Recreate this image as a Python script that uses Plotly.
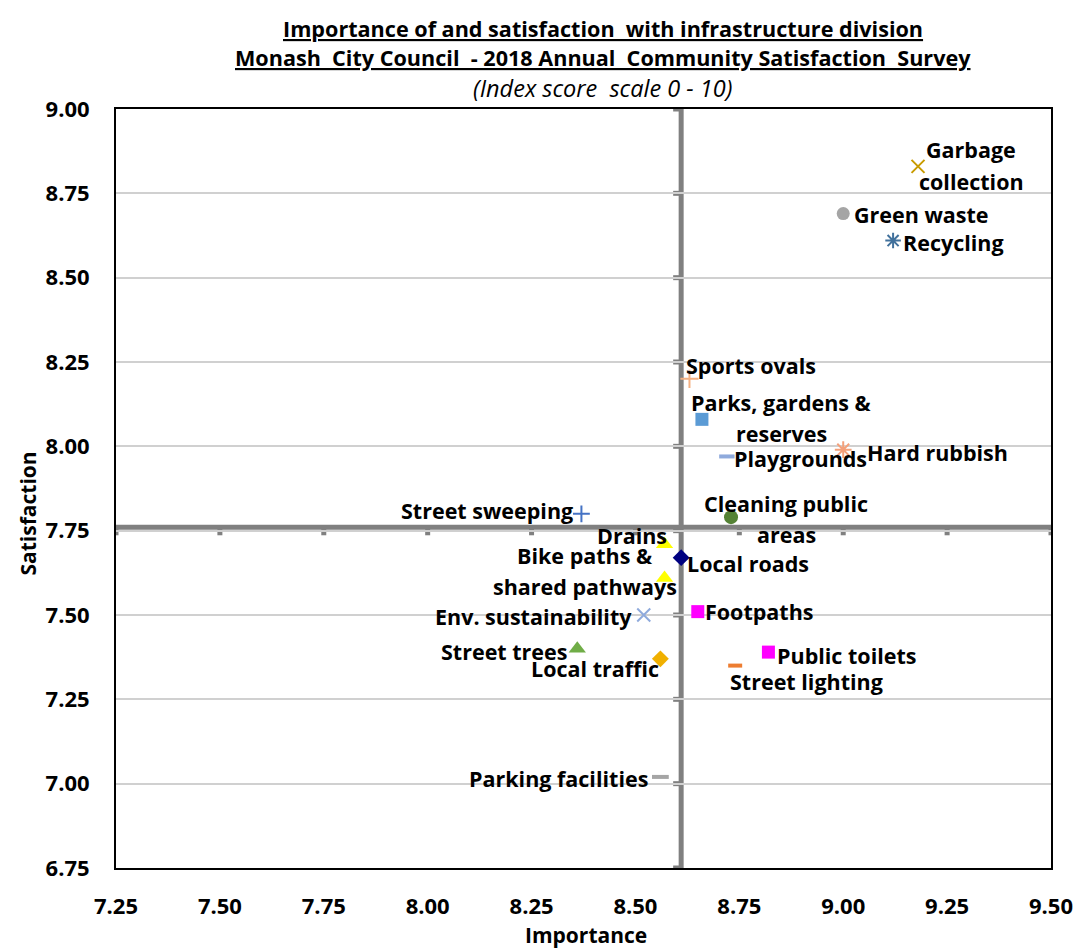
import plotly.graph_objects as go

# ---------------- data ----------------
names = ["Garbage collection", "Green waste", "Recycling", "Sports ovals",
         "Parks, gardens & reserves", "Playgrounds", "Hard rubbish",
         "Cleaning public areas", "Street sweeping", "Drains", "Local roads",
         "Bike paths & shared pathways", "Env. sustainability", "Footpaths",
         "Street trees", "Local traffic", "Public toilets", "Street lighting",
         "Parking facilities"]
importance = [9.18, 9.00, 9.12, 8.63, 8.66, 8.72, 9.00, 8.73, 8.37, 8.57, 8.61,
              8.57, 8.52, 8.65, 8.36, 8.56, 8.82, 8.74, 8.56]
satisfaction = [8.83, 8.69, 8.61, 8.20, 8.08, 7.97, 7.99, 7.79, 7.80, 7.71, 7.67,
                7.61, 7.50, 7.51, 7.40, 7.37, 7.39, 7.35, 7.02]
label_lines = [["Garbage", "collection"], ["Green waste"], ["Recycling"], ["Sports ovals"],
               ["Parks, gardens &", "reserves"], ["Playgrounds"], ["Hard rubbish"],
               ["Cleaning public", "areas"], ["Street sweeping"], ["Drains"], ["Local roads"],
               ["Bike paths &", "shared pathways"], ["Env. sustainability"], ["Footpaths"],
               ["Street trees"], ["Local traffic"], ["Public toilets"], ["Street lighting"],
               ["Parking facilities"]]
avg_importance = 8.61
avg_satisfaction = 7.76

x_ticks = [7.25, 7.50, 7.75, 8.00, 8.25, 8.50, 8.75, 9.00, 9.25, 9.50]
y_ticks = [6.75, 7.00, 7.25, 7.50, 7.75, 8.00, 8.25, 8.50, 8.75, 9.00]

# ---------------- styles ----------------
FONT = "Open Sans"
styles = [
    dict(symbol="x-thin-open", color="#C89B00", size=13, lw=2),
    dict(symbol="circle", color="#A5A5A5", size=13, lw=0),
    dict(symbol="asterisk-open", color="#41719C", size=13, lw=2),
    dict(symbol="cross-thin-open", color="#F4B183", size=13, lw=2),
    dict(symbol="square", color="#5B9BD5", size=13, lw=0),
    dict(symbol="line-ew-open", color="#8FAADC", size=11, lw=4),
    dict(symbol="asterisk-open", color="#F4A07A", size=14, lw=2),
    dict(symbol="circle", color="#548235", size=14, lw=0),
    dict(symbol="cross-thin-open", color="#4472C4", size=12, lw=2),
    dict(symbol="triangle-up", color="#FFFF00", size=15, lw=0),
    dict(symbol="diamond", color="#000080", size=13, lw=0),
    dict(symbol="triangle-up", color="#FFFF00", size=15, lw=0),
    dict(symbol="x-thin-open", color="#8FAADC", size=13, lw=2),
    dict(symbol="square", color="#FF00FF", size=13, lw=0),
    dict(symbol="triangle-up", color="#70AD47", size=15, lw=0),
    dict(symbol="diamond", color="#F0B000", size=13, lw=0),
    dict(symbol="square", color="#FF00FF", size=13, lw=0),
    dict(symbol="line-ew-open", color="#ED7D31", size=10, lw=4),
    dict(symbol="line-ew-open", color="#A5A5A5", size=12, lw=4),
]
# label placement: (anchor, dx, [dy per line]) in pixels relative to marker
placement = [
    ("center", 53, [-17, 15]),
    ("left", 9, [1]),
    ("left", 8, [2]),
    ("left", -5, [-13]),
    ("center", 80, [-17, 14]),
    ("left", 5, [2]),
    ("left", 22, [3]),
    ("center", 55, [-14, 17]),
    ("right", -6, [-3]),
    ("right", 4, [-9]),
    ("left", 4, [6]),
    ("center", -80, [-22, 9]),
    ("right", -10, [1]),
    ("left", 5, [0]),
    ("right", -8, [3]),
    ("right", 1, [10]),
    ("left", 7, [3]),
    ("left", -7, [16]),
    ("right", -10, [2]),
]

fig = go.Figure()
for i, name in enumerate(names):
    s = styles[i]
    if s["lw"] > 0:
        marker = dict(symbol=s["symbol"], size=s["size"], color=s["color"],
                      line=dict(color=s["color"], width=s["lw"]))
    else:
        marker = dict(symbol=s["symbol"], size=s["size"], color=s["color"],
                      line=dict(width=0))
    fig.add_trace(go.Scatter(x=[importance[i]], y=[satisfaction[i]], mode="markers",
                             marker=marker, name=name, showlegend=False,
                             hoverinfo="text", text=[name]))

annotations = []
LABEL_SIZE = 21.5
for i in range(len(names)):
    anchor, dx, dys = placement[i]
    for line, dy in zip(label_lines[i], dys):
        annotations.append(dict(
            x=importance[i], y=satisfaction[i], xref="x", yref="y",
            text="<b>%s</b>" % line, showarrow=False,
            xanchor=anchor, yanchor="middle", xshift=dx, yshift=-dy,
            font=dict(family=FONT, size=LABEL_SIZE, color="#000000")))

# titles
title_lines = [
    ("<b><u>Importance of and satisfaction  with infrastructure division</u></b>", 81, 21.6),
    ("<b><u>Monash  City Council  - 2018 Annual  Community Satisfaction  Survey</u></b>", 52, 21.6),
    ("<i>(Index score  scale 0 - 10)</i>", 21, 23.5),
]
for txt, ys, fs in title_lines:
    annotations.append(dict(x=0.5, y=1, xref="paper", yref="paper", text=txt,
                            showarrow=False, xanchor="center", yanchor="middle",
                            xshift=19, yshift=ys,
                            font=dict(family=FONT, size=fs, color="#000000")))
annotations.append(dict(x=0.5, y=0, xref="paper", yref="paper", text="<b>Importance</b>",
                        showarrow=False, xanchor="center", yanchor="middle",
                        xshift=2, yshift=-67,
                        font=dict(family=FONT, size=21, color="#000000")))
annotations.append(dict(x=0, y=0.5, xref="paper", yref="paper", text="<b>Satisfaction</b>",
                        showarrow=False, xanchor="center", yanchor="middle",
                        xshift=-89, yshift=-25, textangle=-90,
                        font=dict(family=FONT, size=21, color="#000000")))

# centre lines with tick marks
GREY = "#808080"
shapes = [
    dict(type="line", xref="x", yref="y", x0=x_ticks[0], x1=x_ticks[-1],
         y0=avg_satisfaction, y1=avg_satisfaction, line=dict(color=GREY, width=5), layer="below"),
    dict(type="line", xref="x", yref="y", x0=avg_importance, x1=avg_importance,
         y0=y_ticks[0], y1=y_ticks[-1], line=dict(color=GREY, width=5), layer="below"),
]
for xv in x_ticks:
    shapes.append(dict(type="rect", xref="x", yref="y", xsizemode="pixel", ysizemode="pixel",
                       xanchor=xv, yanchor=avg_satisfaction, x0=-2.5, x1=2.5, y0=-8, y1=0,
                       fillcolor=GREY, line=dict(width=0), layer="below"))
for yv in y_ticks:
    shapes.append(dict(type="rect", xref="x", yref="y", xsizemode="pixel", ysizemode="pixel",
                       xanchor=avg_importance, yanchor=yv, x0=-8, x1=0, y0=-2.5, y1=2.5,
                       fillcolor=GREY, line=dict(width=0), layer="below"))

fig.update_layout(
    width=1077, height=949,
    margin=dict(l=116, r=26, t=109, b=81, autoexpand=False),
    paper_bgcolor="white", plot_bgcolor="white",
    font=dict(family=FONT, color="#000000"),
    annotations=annotations, shapes=shapes,
    xaxis=dict(range=[x_ticks[0], x_ticks[-1]], tickvals=x_ticks,
               ticktext=["<b>%.2f</b>" % v for v in x_ticks],
               showgrid=False, zeroline=False, showline=True, linecolor="#000000",
               linewidth=2, mirror=True, ticks="", ticklabelstandoff=18,
               ticklabeloverflow="allow", automargin=False,
               tickfont=dict(family=FONT, size=22, color="#000000"), fixedrange=True),
    yaxis=dict(range=[y_ticks[0], y_ticks[-1]], tickvals=y_ticks,
               ticktext=["<b>%.2f</b>" % v for v in y_ticks],
               showgrid=True, gridcolor="#D0D0D0", gridwidth=2, zeroline=False,
               showline=True, linecolor="#000000", linewidth=2, mirror=True, ticks="",
               ticklabelstandoff=20, ticklabeloverflow="allow", automargin=False,
               tickfont=dict(family=FONT, size=22, color="#000000"), fixedrange=True),
)

fig.write_html("out.html", config={"displayModeBar": False},
               post_script="document.body.style.margin='0';document.body.style.overflow='hidden';")
